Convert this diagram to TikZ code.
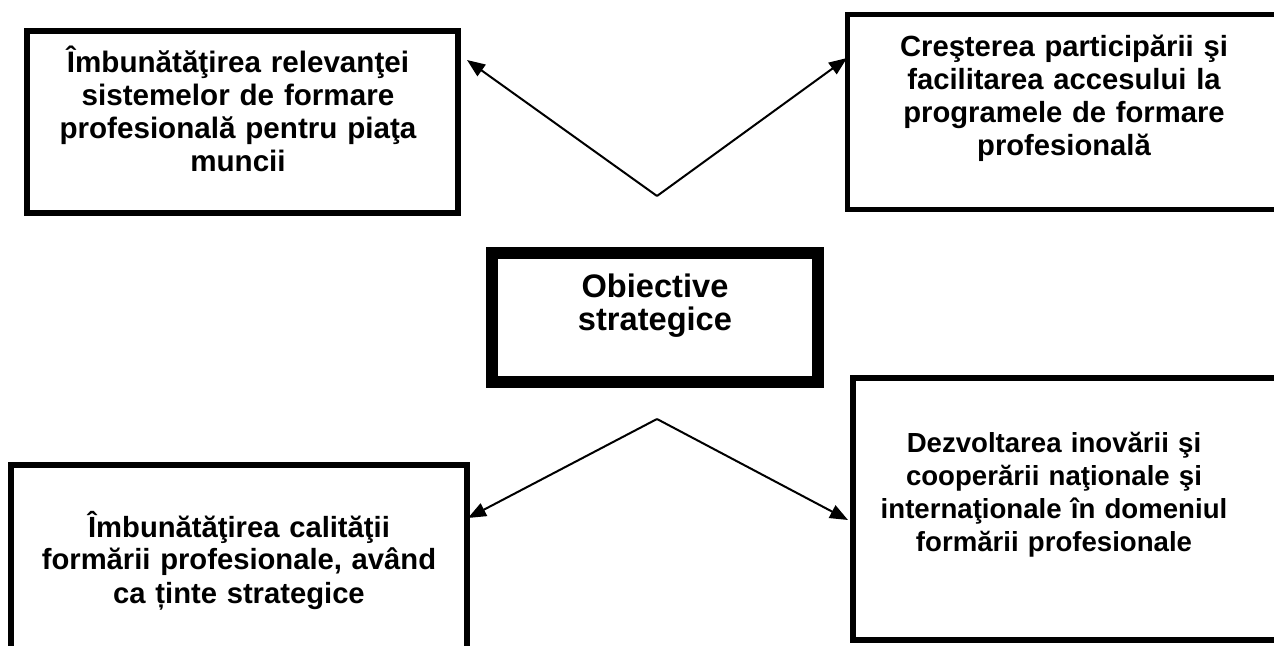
\documentclass[tikz,border=0pt]{standalone}
\usepackage{fontspec}
\setmainfont{Liberation Sans}
\usetikzlibrary{arrows.meta}
\begin{document}
\begin{tikzpicture}[x=0.5pt,y=-0.5pt,
    box/.style={draw,line width=3pt,inner sep=0pt,outer sep=0pt},
    txt/.style={font=\bfseries\fontsize{#1}{16.5}\selectfont,align=center,text width=260pt,anchor=base,inner sep=0pt},
    arr/.style={-{Triangle[length=9pt,width=7pt]},line width=1pt}]
        \useasboundingbox (0,0) rectangle (1274,646);
        \clip (0,0) rectangle (1274,646);
        % boxes
        \draw (242.5,122) node[box,minimum width=215.5pt,minimum height=91pt](relev){};
        \draw (1068.75,112.25) node[box,line width=2.5pt,minimum width=221.25pt,minimum height=97.75pt](acces){};
        \draw (655,317.5) node[box,line width=6pt,minimum width=163pt,minimum height=64.5pt](obiect){};
        \draw (239,572.5) node[box,minimum width=228pt,minimum height=107.5pt](calit){};
        \draw (1071.5,509) node[box,minimum width=218.5pt,minimum height=131pt](inov){};
        % texts
        \draw (238,73) node[txt=14.8](trelev){Îmbunătăţirea relevanţei\\sistemelor de formare\\profesională pentru piaţa\\muncii};
        \draw (1064,57) node[txt=14.6](tacces){Creşterea participării şi\\facilitarea accesului la\\programele de formare\\profesională};
        \draw (655,298) node[txt=16.3](tobiect){Obiective\\strategice};
        \draw (239,537) node[txt=14.6](tcalit){Îmbunătăţirea calităţii\\formării profesionale, având\\ca ținte strategice};
        \draw (1054,452) node[txt=13.8](tinov){Dezvoltarea inovării şi\\cooperării naţionale şi\\internaţionale în domeniul\\formării profesionale};
        % arrows
        \coordinate (up) at (657,196);
        \coordinate (down) at (657,419);
        \coordinate (relevtip) at (467,60);
        \coordinate (accestip) at (847,58);
        \coordinate (calittip) at (468,518);
        \coordinate (inovtip) at (848,520);
        \draw[arr]
          (up) -- (relevtip);
        \draw[arr]
          (up) -- (accestip);
        \draw[arr]
          (down) -- (calittip);
        \draw[arr]
          (down) -- (inovtip);
      \end{tikzpicture}
\end{document}
